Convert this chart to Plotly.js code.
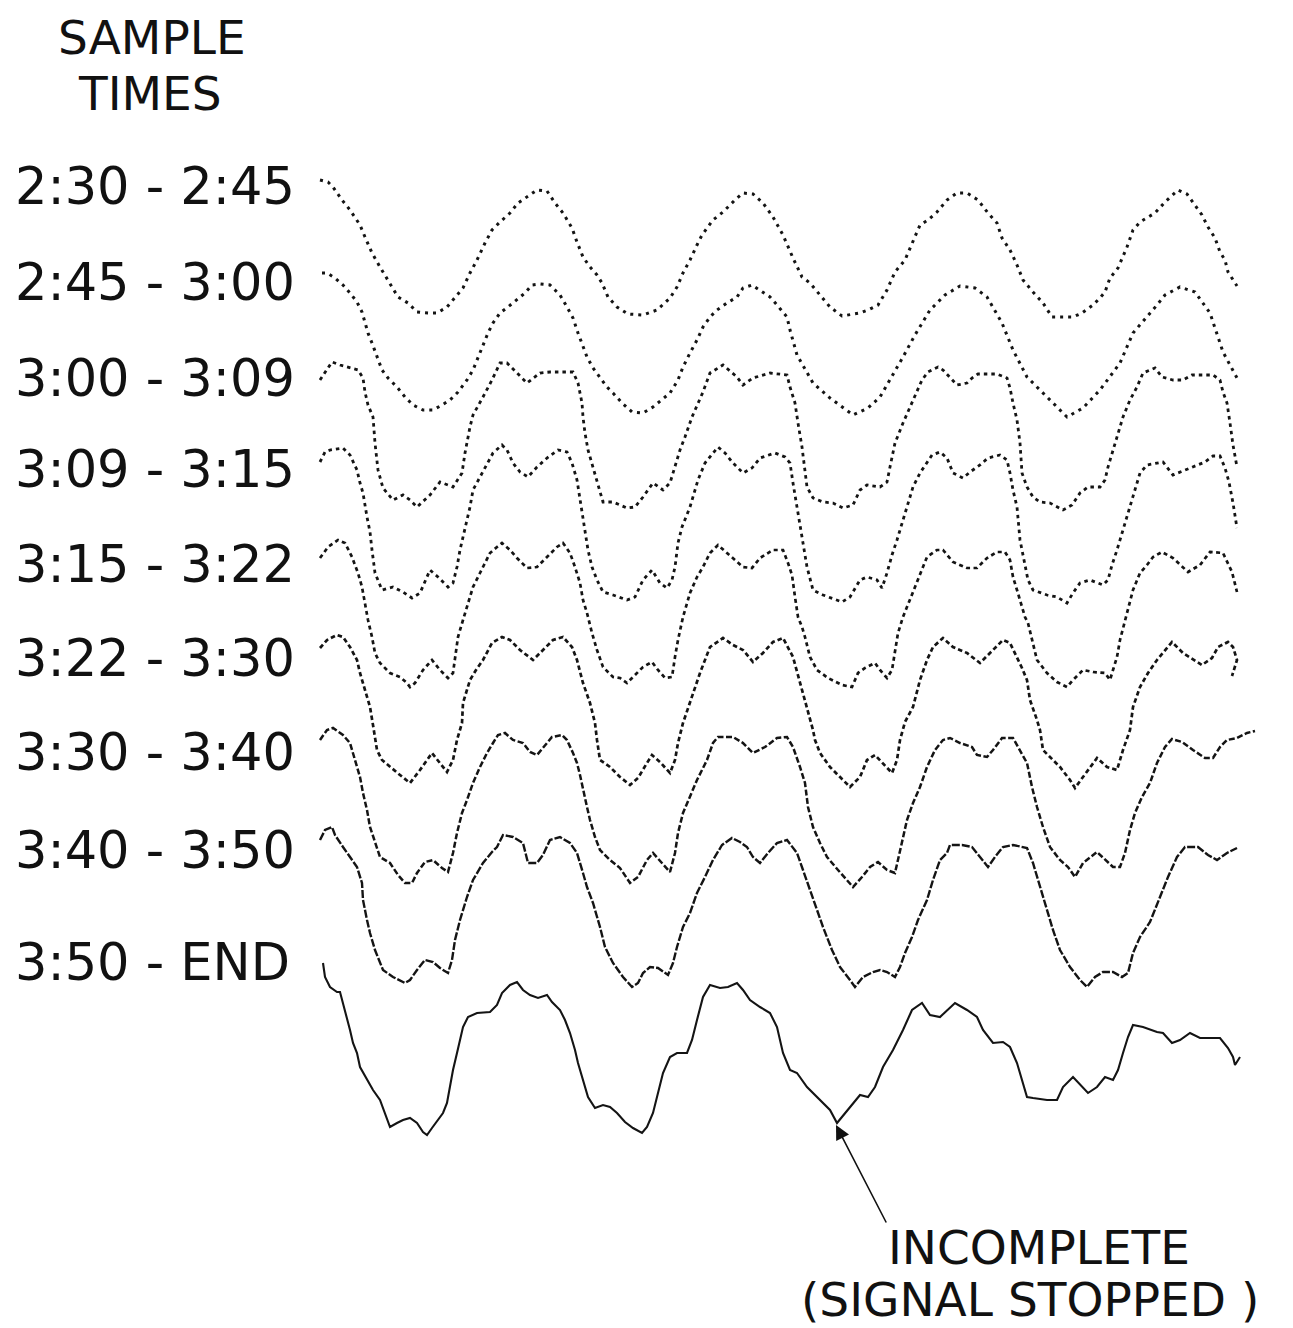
<!DOCTYPE html>
<html>
<head>
<meta charset="utf-8">
<script src="https://cdn.plot.ly/plotly-3.0.1.min.js"></script>
<style>html,body{margin:0;padding:0;background:#fff;}#chart{width:1293px;height:1328px;}</style>
</head>
<body>
<div id="chart"></div>
<script>
// Sample-time labels (one per recorded trace)
const sampleTimes = ["2:30 - 2:45", "2:45 - 3:00", "3:00 - 3:09", "3:09 - 3:15", "3:15 - 3:22",
                     "3:22 - 3:30", "3:30 - 3:40", "3:40 - 3:50", "3:50 - END"];

// Traced waveforms: [time position, recorded deflection] pairs read from the record
const wave_2_30 = [[320,180],[328,182],[333,187],[342,200],[350,210],[360,225],[365,237],[372,253],[380,267],[390,283],[398,297],[408,303],[417,312],[428,313],[437,313],[447,307],[455,298],[463,288],[470,273],[477,260],[485,243],[492,230],[500,222],[510,213],[518,203],[527,197],[537,190],[547,191],[555,203],[563,213],[572,228],[577,242],[583,257],[590,267],[597,275],[602,283],[608,297],[617,307],[628,314],[643,315],[657,310],[670,298],[677,287],[683,273],[690,260],[697,245],[702,235],[713,220],[723,212],[735,200],[743,193],[753,194],[763,203],[773,217],[783,235],[793,258],[802,277],[810,283],[822,297],[830,307],[842,316],[860,313],[868,310],[878,305],[887,290],[895,272],[905,260],[912,243],[920,225],[928,220],[937,212],[947,200],[957,193],[967,193],[978,200],[988,213],[997,223],[1002,238],[1010,250],[1017,265],[1023,280],[1033,292],[1043,303],[1052,317],[1063,317],[1073,317],[1082,313],[1093,305],[1100,298],[1105,292],[1110,278],[1118,268],[1127,247],[1133,230],[1140,222],[1147,218],[1155,213],[1165,202],[1172,195],[1178,190],[1187,194],[1202,215],[1208,227],[1215,238],[1220,252],[1225,260],[1228,272],[1237,286]];

const wave_2_45 = [[322,273],[327,273],[335,278],[343,285],[350,293],[357,302],[362,312],[365,323],[368,333],[372,343],[377,357],[382,370],[388,378],[397,387],[405,397],[413,405],[423,410],[433,410],[442,405],[450,400],[458,392],[467,380],[473,370],[478,357],[483,345],[488,333],[493,323],[500,313],[508,307],[517,300],[525,293],[532,285],[540,284],[550,285],[560,295],[567,307],[573,318],[578,333],[582,343],[587,357],[593,368],[600,378],[607,387],[613,393],[622,403],[632,412],[643,413],[653,407],[662,400],[670,393],[678,380],[683,367],[690,353],[697,340],[703,327],[710,317],[717,310],[727,303],[737,297],[743,288],[752,285],[760,290],[770,297],[777,305],[787,317],[790,330],[797,355],[813,383],[830,398],[853,415],[868,408],[880,397],[893,375],[903,357],[915,335],[930,310],[945,295],[960,286],[975,288],[987,297],[1002,323],[1013,350],[1027,377],[1047,397],[1067,417],[1083,408],[1100,390],[1120,363],[1133,333],[1157,305],[1165,295],[1180,287],[1195,292],[1210,313],[1223,352],[1237,378]];

const wave_3_00 = [[320,380],[325,372],[332,362],[340,365],[350,368],[358,370],[363,378],[365,392],[368,405],[373,417],[375,443],[378,470],[383,488],[393,500],[403,495],[410,500],[417,507],[430,495],[440,482],[453,487],[462,473],[465,453],[470,427],[473,415],[483,397],[492,380],[500,363],[507,363],[517,373],[527,383],[540,373],[550,372],[563,372],[573,372],[578,383],[582,403],[583,417],[585,433],[588,450],[597,480],[603,502],[613,502],[627,508],[635,507],[643,497],[653,483],[663,490],[670,483],[675,467],[680,450],[685,437],[692,417],[703,392],[710,373],[723,365],[737,377],[743,385],[753,378],[770,373],[787,375],[790,387],[795,403],[798,423],[802,447],[807,487],[813,498],[823,502],[833,503],[843,508],[853,505],[860,490],[867,485],[880,487],[887,482],[890,467],[895,443],[903,423],[910,407],[917,392],[922,380],[928,372],[938,367],[943,370],[950,378],[957,385],[967,383],[972,378],[978,374],[997,374],[1007,378],[1010,388],[1013,403],[1017,420],[1020,443],[1022,473],[1027,487],[1033,497],[1040,502],[1050,503],[1063,510],[1072,505],[1080,493],[1088,487],[1100,487],[1105,480],[1108,467],[1113,450],[1118,433],[1123,417],[1130,400],[1137,387],[1143,373],[1155,368],[1162,377],[1173,380],[1183,380],[1192,375],[1213,375],[1220,380],[1223,392],[1227,403],[1230,423],[1233,445],[1237,467]];

const wave_3_09 = [[320,462],[325,452],[330,450],[343,448],[350,455],[357,470],[360,483],[363,493],[367,517],[370,532],[372,550],[375,573],[382,590],[393,587],[403,592],[412,598],[420,593],[430,570],[438,577],[448,587],[453,583],[457,567],[460,550],[467,520],[470,507],[473,490],[480,477],[487,463],[493,453],[502,445],[507,450],[513,463],[520,472],[528,477],[537,467],[547,458],[558,450],[567,452],[572,463],[577,480],[580,500],[583,517],[588,550],[592,567],[597,580],[603,592],[613,595],[627,600],[635,597],[643,580],[652,570],[660,583],[667,588],[672,580],[675,567],[678,543],[682,527],[690,507],[698,480],[705,463],[713,453],[718,447],[725,453],[733,463],[743,473],[752,468],[760,458],[775,453],[785,457],[790,463],[793,483],[798,513],[803,540],[807,567],[813,590],[823,595],[842,602],[850,597],[860,580],[867,577],[877,580],[882,588],[887,573],[892,555],[897,540],[902,523],[907,508],[913,487],[920,473],[927,463],[932,455],[940,452],[947,458],[953,473],[963,478],[970,472],[980,465],[988,458],[1000,455],[1007,460],[1010,473],[1013,490],[1017,507],[1020,540],[1025,567],[1028,580],[1033,590],[1047,595],[1057,597],[1067,603],[1073,593],[1080,583],[1090,580],[1103,585],[1108,580],[1112,565],[1117,550],[1123,530],[1130,507],[1135,490],[1140,473],[1147,465],[1163,462],[1173,475],[1190,468],[1205,462],[1213,456],[1220,456],[1225,468],[1229,482],[1233,503],[1237,528]];

const wave_3_15 = [[320,558],[328,547],[338,540],[345,543],[352,557],[358,573],[362,587],[365,603],[368,620],[372,637],[375,653],[380,663],[390,673],[400,677],[407,683],[410,687],[415,683],[423,670],[432,660],[440,670],[448,678],[453,673],[455,657],[458,637],[463,620],[468,603],[473,587],[480,573],[490,553],[497,547],[502,543],[510,550],[517,558],[527,568],[537,567],[547,557],[557,547],[563,543],[570,553],[575,567],[580,583],[583,600],[587,613],[592,633],[597,650],[603,667],[613,677],[620,678],[627,683],[635,675],[643,667],[652,662],[658,670],[665,678],[672,677],[675,657],[678,640],[683,617],[690,593],[697,577],[703,567],[710,553],[718,545],[727,553],[735,560],[743,567],[752,568],[760,558],[773,550],[783,550],[788,563],[792,575],[795,597],[798,617],[802,627],[805,637],[810,657],[817,670],[828,678],[842,685],[852,687],[858,673],[865,668],[875,663],[880,670],[887,678],[892,670],[895,650],[898,633],[903,617],[907,607],[913,590],[920,573],[927,557],[937,550],[943,550],[953,562],[967,568],[977,568],[987,558],[997,552],[1005,552],[1010,560],[1013,577],[1017,590],[1020,600],[1025,617],[1028,623],[1032,640],[1037,660],[1047,673],[1057,682],[1067,687],[1073,680],[1083,670],[1093,672],[1105,673],[1110,680],[1113,670],[1117,657],[1120,640],[1127,613],[1133,590],[1140,573],[1147,565],[1153,557],[1162,552],[1173,558],[1188,572],[1200,565],[1210,552],[1223,553],[1232,572],[1237,592]];

const wave_3_22 = [[320,648],[327,640],[337,635],[343,637],[350,647],[357,660],[360,673],[365,690],[370,707],[373,725],[377,750],[382,760],[390,767],[400,775],[410,783],[420,770],[432,753],[440,763],[447,772],[453,760],[457,740],[462,723],[463,703],[470,680],[476,670],[483,660],[492,643],[502,637],[510,640],[520,650],[533,660],[543,650],[553,640],[563,637],[572,647],[577,660],[583,683],[590,703],[595,723],[597,740],[600,760],[610,767],[620,777],[630,785],[638,778],[647,763],[652,755],[660,762],[670,773],[675,760],[678,743],[683,723],[690,703],[700,673],[710,647],[723,638],[733,645],[743,650],[753,662],[763,653],[773,642],[783,638],[793,657],[798,675],[803,693],[808,713],[813,730],[815,740],[820,753],[830,767],[840,777],[850,787],[860,777],[867,760],[875,755],[883,763],[892,773],[897,760],[900,740],[905,722],[913,707],[920,680],[927,660],[933,647],[943,638],[953,647],[967,653],[980,663],[990,653],[1003,640],[1010,643],[1017,657],[1022,668],[1027,680],[1030,700],[1037,720],[1040,730],[1043,750],[1050,757],[1060,767],[1070,780],[1075,788],[1083,777],[1097,758],[1107,767],[1117,770],[1123,750],[1130,730],[1133,707],[1140,687],[1148,673],[1157,660],[1172,642],[1183,653],[1202,665],[1212,658],[1218,647],[1228,642],[1233,647],[1237,660],[1232,676]];

const wave_3_30 = [[320,740],[327,730],[333,728],[343,735],[350,743],[355,760],[360,777],[363,793],[367,810],[370,827],[375,843],[380,857],[390,863],[398,875],[405,883],[412,883],[417,873],[425,862],[433,860],[442,868],[448,872],[453,853],[457,833],[462,813],[467,800],[473,783],[480,767],[487,753],[493,743],[498,735],[505,733],[513,740],[523,743],[530,752],[537,755],[543,748],[552,737],[562,735],[567,740],[573,753],[577,763],[580,775],[583,790],[587,807],[590,820],[595,837],[600,850],[610,860],[620,868],[630,883],[638,877],[647,860],[653,853],[662,863],[670,872],[675,853],[678,833],[683,813],[690,797],[697,780],[707,760],[713,743],[718,737],[733,737],[743,743],[753,753],[765,747],[777,738],[787,737],[793,747],[800,767],[805,783],[808,807],[813,827],[820,843],[827,857],[838,870],[847,880],[853,887],[862,877],[870,867],[878,862],[887,870],[895,873],[898,860],[902,840],[907,820],[913,803],[920,787],[927,767],[935,750],[943,740],[950,738],[960,743],[972,747],[977,755],[987,757],[993,750],[1002,738],[1013,738],[1020,750],[1027,763],[1032,787],[1037,807],[1043,827],[1050,847],[1060,860],[1068,867],[1075,877],[1083,863],[1097,852],[1105,860],[1113,867],[1120,867],[1125,853],[1130,830],[1135,813],[1142,797],[1150,783],[1157,763],[1165,747],[1172,739],[1182,742],[1193,750],[1205,758],[1213,758],[1220,747],[1227,740],[1237,738],[1247,733],[1255,731]];

const wave_3_40 = [[320,840],[325,830],[332,827],[335,835],[343,847],[350,857],[357,867],[362,883],[363,900],[367,920],[370,933],[375,950],[383,970],[393,977],[405,983],[410,980],[417,970],[425,960],[433,962],[440,968],[448,973],[452,960],[455,940],[460,920],[467,897],[473,880],[483,863],[492,852],[497,847],[503,835],[513,837],[523,843],[528,863],[537,863],[543,855],[550,840],[560,837],[570,843],[577,853],[583,873],[587,887],[593,903],[600,927],[605,947],[613,963],[623,977],[632,987],[638,983],[643,973],[650,967],[658,968],[668,975],[673,963],[677,947],[683,927],[690,913],[697,893],[705,877],[713,860],[722,845],[732,838],[740,842],[747,847],[753,857],[760,863],[768,853],[777,843],[787,840],[797,853],[803,870],[810,890],[817,910],[823,927],[832,950],[840,967],[850,980],[855,987],[863,977],[873,972],[880,970],[887,972],[895,977],[900,967],[905,953],[912,937],[918,920],[927,900],[933,880],[940,860],[947,853],[950,845],[962,845],[972,847],[980,857],[988,867],[995,857],[1003,847],[1013,845],[1027,848],[1033,863],[1040,887],[1047,910],[1053,930],[1060,950],[1070,967],[1080,980],[1087,987],[1095,977],[1103,972],[1113,972],[1122,977],[1128,973],[1133,953],[1140,937],[1150,922],[1160,897],[1168,877],[1177,857],[1185,847],[1198,847],[1208,855],[1217,860],[1227,853],[1237,848]];

const wave_3_50 = [[323,963],[325,977],[330,987],[337,992],[340,992],[343,1003],[347,1017],[350,1030],[353,1043],[357,1053],[360,1067],[367,1080],[373,1090],[380,1100],[385,1113],[390,1127],[397,1123],[403,1120],[410,1118],[417,1123],[423,1132],[427,1135],[432,1128],[438,1120],[443,1113],[447,1103],[450,1087],[453,1070],[457,1053],[460,1040],[463,1027],[468,1017],[477,1013],[490,1012],[497,1005],[502,993],[510,985],[517,982],[523,990],[530,995],[538,998],[547,995],[552,1002],[560,1010],[565,1020],[570,1033],[575,1050],[578,1063],[583,1080],[588,1097],[595,1108],[603,1105],[610,1107],[617,1113],[625,1122],[633,1128],[642,1133],[647,1127],[653,1113],[658,1093],[663,1073],[670,1057],[677,1053],[687,1053],[692,1040],[697,1020],[703,997],[710,985],[720,988],[728,987],[737,983],[743,990],[750,1000],[760,1007],[770,1013],[777,1027],[783,1053],[790,1070],[797,1073],[807,1087],[820,1100],[830,1110],[837,1123],[845,1113],[853,1103],[860,1095],[868,1097],[875,1087],[883,1067],[893,1050],[903,1030],[912,1010],[922,1003],[930,1015],[940,1017],[947,1010],[955,1003],[967,1010],[977,1017],[983,1030],[993,1043],[1003,1042],[1010,1047],[1017,1063],[1023,1083],[1027,1097],[1033,1098],[1047,1100],[1057,1100],[1063,1087],[1073,1077],[1082,1087],[1088,1093],[1097,1087],[1105,1077],[1113,1080],[1118,1070],[1123,1053],[1128,1037],[1133,1025],[1143,1027],[1157,1032],[1163,1033],[1172,1043],[1180,1040],[1190,1033],[1200,1038],[1220,1038],[1228,1048],[1233,1057],[1235,1065],[1240,1057]];

const waves = [wave_2_30, wave_2_45, wave_3_00, wave_3_09, wave_3_15, wave_3_22, wave_3_30, wave_3_40, wave_3_50];

// Styling (not data)
const labelY = [186, 282, 378, 469, 564, 658, 752, 850, 962];
const dashes = ["3px,5px", "3px,5px", "3.5px,4px", "3.5px,4px", "4px,3.5px", "4.5px,3px", "6px,2.5px", "8px,2px", "solid"];
const widths = [3, 3, 2.8, 2.8, 2.7, 2.7, 2.5, 2.4, 2.1];
const FONT = "DejaVu Sans, Liberation Sans, sans-serif";

const traces = waves.map((w, i) => ({
  type: "scatter", mode: "lines",
  x: w.map(p => p[0]), y: w.map(p => p[1]),
  name: sampleTimes[i],
  line: {color: "#141414", width: widths[i], dash: dashes[i], shape: "linear"},
  hoverinfo: "name"
}));

const annotations = [
  {text: "SAMPLE", x: 152, y: 37, xref: "x", yref: "y", showarrow: false, font: {family: FONT, size: 47, color: "#111"}},
  {text: "TIMES", x: 150, y: 93, xref: "x", yref: "y", showarrow: false, font: {family: FONT, size: 47, color: "#111"}}
];
sampleTimes.forEach((t, i) => annotations.push({
  text: t, x: 13, y: labelY[i], xref: "x", yref: "y", xanchor: "left", yanchor: "middle",
  showarrow: false, font: {family: FONT, size: 51, color: "#111"}
}));
annotations.push({
  text: "", x: 836, y: 1125, xref: "x", yref: "y", ax: 887, ay: 1224, axref: "x", ayref: "y",
  showarrow: true, arrowhead: 2, arrowsize: 1.8, arrowwidth: 1.6, arrowcolor: "#111"
});
annotations.push({text: "INCOMPLETE", x: 1039, y: 1247, xref: "x", yref: "y", showarrow: false, font: {family: FONT, size: 47, color: "#111"}});
annotations.push({text: "(SIGNAL STOPPED )", x: 1030, y: 1299, xref: "x", yref: "y", showarrow: false, font: {family: FONT, size: 47, color: "#111"}});

const layout = {
  width: 1293, height: 1328,
  margin: {l: 0, r: 0, t: 0, b: 0, pad: 0},
  paper_bgcolor: "#ffffff", plot_bgcolor: "#ffffff",
  showlegend: false,
  xaxis: {range: [0, 1293], visible: false, fixedrange: true},
  yaxis: {range: [1328, 0], visible: false, fixedrange: true},
  annotations: annotations
};

Plotly.newPlot("chart", traces, layout, {displayModeBar: false, staticPlot: true});
</script>
</body>
</html>
